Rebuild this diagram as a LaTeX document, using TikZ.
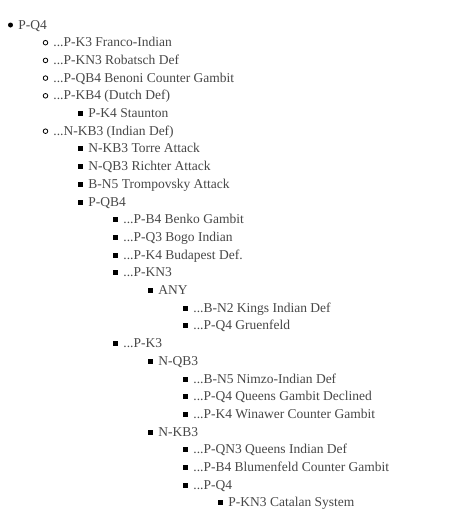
\documentclass[tikz,border=0pt]{standalone}
\usepackage{fontspec}
\setmainfont{Liberation Serif}
\usetikzlibrary{positioning}

\newcommand{\el}{...}

\begin{document}
\begin{tikzpicture}[
    x=1pt, y=-1pt,
    every node/.style={font=\fontsize{13.5}{16}\selectfont}, % 统一字体
    entry/.style={text=black!72, inner sep=0pt, text height=11pt, text depth=3pt}, % 条目文字
    disc/.style={fill=black, circle, inner sep=0pt, minimum size=5pt}, % 第一层: 实心圆
    ring/.style={draw=black, circle, inner sep=0pt, minimum size=4.6pt, line width=0.8pt}, % 第二层: 空心圆
    sq/.style={fill=black, rectangle, inner sep=0pt, minimum size=5pt} % 其余层: 实心方块
]
    % 0. 画布大小
    \useasboundingbox (0, 0) rectangle (466, 512);

    % 1. 列表条目: 层级/符号/文字
    \foreach \lev/\bul/\txt [count=\i] in {
        0/disc/P-Q4,
        1/ring/\el P-K3 Franco-Indian,
        1/ring/\el P-KN3 Robatsch Def,
        1/ring/\el P-QB4 Benoni Counter Gambit,
        1/ring/\el P-KB4 (Dutch Def),
        2/sq/P-K4 Staunton,
        1/ring/\el N-KB3 (Indian Def),
        2/sq/N-KB3 Torre Attack,
        2/sq/N-QB3 Richter Attack,
        2/sq/B-N5 Trompovsky Attack,
        2/sq/P-QB4,
        3/sq/\el P-B4 Benko Gambit,
        3/sq/\el P-Q3 Bogo Indian,
        3/sq/\el P-K4 Budapest Def.,
        3/sq/\el P-KN3,
        4/sq/ANY,
        5/sq/\el B-N2 Kings Indian Def,
        5/sq/\el P-Q4 Gruenfeld,
        3/sq/\el P-K3,
        4/sq/N-QB3,
        5/sq/\el B-N5 Nimzo-Indian Def,
        5/sq/\el P-Q4 Queens Gambit Declined,
        5/sq/\el P-K4 Winawer Counter Gambit,
        4/sq/N-KB3,
        5/sq/\el P-QN3 Queens Indian Def,
        5/sq/\el P-B4 Blumenfeld Counter Gambit,
        5/sq/\el P-Q4,
        6/sq/P-KN3 Catalan System} {
        \node[\bul] (b\i) at ({10.5+35*\lev}, {25+17.7*(\i-1)}) {}; % 符号
        \node[entry, right=5pt of b\i] (t\i) {\txt}; % 文字
    }

\end{tikzpicture}
\end{document}
